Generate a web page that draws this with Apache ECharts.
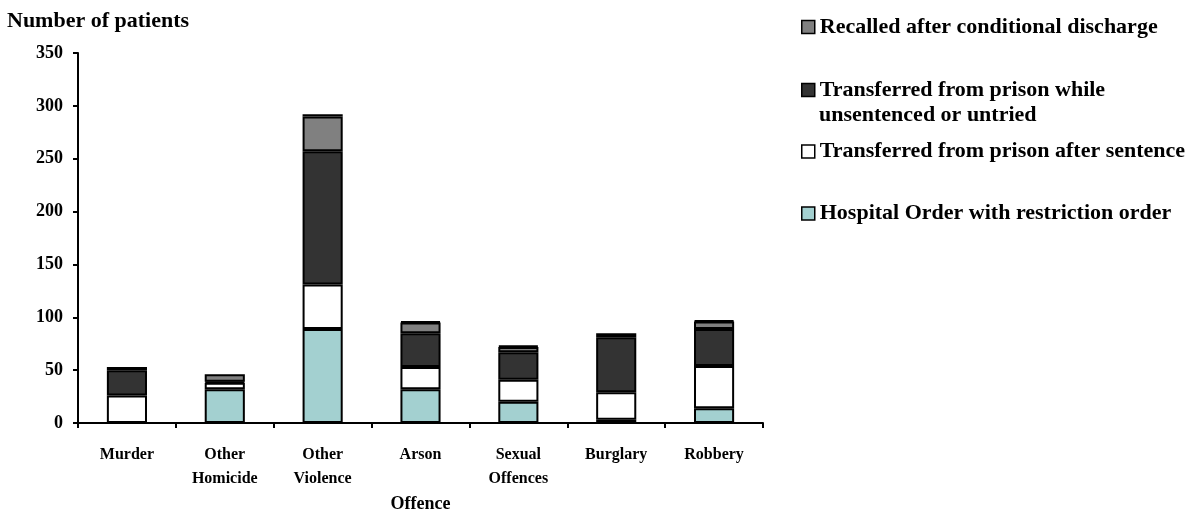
<!DOCTYPE html>
<html><head><meta charset="utf-8">
<script src="https://cdn.jsdelivr.net/npm/echarts@6/dist/echarts.min.js"></script>
<style>html,body{margin:0;padding:0;background:#fff}#c{width:1203px;height:513px}</style>
</head><body><div id="c"></div>
<script>
const categories = ['Murder', 'Other\nHomicide', 'Other\nViolence', 'Arson', 'Sexual\nOffences', 'Burglary', 'Robbery'];
const hospitalOrder = [0, 32, 89, 32, 20, 3, 14];
const afterSentence = [26, 6, 42, 21, 21, 26, 40];
const unsentenced = [24, 1, 126, 32, 26, 52, 35];
const recalled = [0, 7, 33, 10, 5, 4, 7];
const otherBand = [3, 0, 2, 1, 1, 0, 1];
const yTicks = [0, 50, 100, 150, 200, 250, 300, 350];

const FONT = '"Liberation Serif", "Times New Roman", serif';
const names = ['Recalled after conditional discharge', 'Transferred from prison while unsentenced or untried', 'Transferred from prison after sentence', 'Hospital Order with restriction order'];
const legendTops = [14.5, 77.5, 139, 201];

const chart = echarts.init(document.getElementById('c'));
function seg(name, data, color) {
  return { name, type: 'bar', stack: 's', data: data.map(v => v === 0 ? null : v), barCategoryGap: '59%',
    itemStyle: { color, borderColor: '#000', borderWidth: 2 } };
}
chart.setOption({
  animation: false,
  textStyle: { fontFamily: FONT },
  title: { text: 'Number of patients', left: 7, top: 10, padding: 0, textStyle: { fontFamily: FONT, fontSize: 22, fontWeight: 'bold', color: '#000' } },
  grid: { left: 78, right: 440, top: 53, bottom: 90, outerBoundsMode: 'none', containLabel: false },
  legend: names.map((n, i) => ({
    data: [n], left: 801, top: legendTops[i], padding: 0, orient: 'vertical',
    itemWidth: 13, itemHeight: 13, itemGap: 0, icon: 'rect', selectedMode: false,
    itemStyle: { borderColor: '#000', borderWidth: 1.5 },
    formatter: nm => nm.startsWith('Transferred from prison while') ? 'Transferred from prison while' : nm,
    textStyle: { fontFamily: FONT, fontSize: 22, fontWeight: 'bold', color: '#000', lineHeight: 25 }
  })),
  graphic: [{ type: 'text', left: 819, top: 102.5, style: { text: 'unsentenced or untried', font: 'bold 22px ' + FONT, fill: '#000', lineHeight: 25 } }],
  xAxis: {
    type: 'category', data: categories, name: 'Offence', nameLocation: 'middle', nameGap: 72, nameMoveOverlap: false,
    nameTextStyle: { fontFamily: FONT, fontSize: 18, fontWeight: 'bold', color: '#000' },
    axisLine: { lineStyle: { color: '#000', width: 2 } },
    axisTick: { show: true, length: 5, lineStyle: { color: '#000', width: 2 } },
    axisLabel: { fontFamily: FONT, fontSize: 16, fontWeight: 'bold', color: '#000', margin: 20, lineHeight: 24 }
  },
  yAxis: {
    type: 'value', min: 0, max: 350, interval: 50,
    axisLine: { show: true, lineStyle: { color: '#000', width: 2 } },
    axisTick: { show: true, length: 5, lineStyle: { color: '#000', width: 2 } },
    splitLine: { show: false },
    axisLabel: { fontFamily: FONT, fontSize: 18, fontWeight: 'bold', color: '#000', margin: 15,
      formatter: v => yTicks.includes(v) ? String(v) : '' }
  },
  series: [
    seg('Hospital Order with restriction order', hospitalOrder, '#a3d0d0'),
    seg('Transferred from prison after sentence', afterSentence, '#ffffff'),
    seg(names[1], unsentenced, '#333333'),
    seg('Recalled after conditional discharge', recalled, '#808080'),
    seg('Other', otherBand, '#000000')
  ]
});
</script></body></html>
